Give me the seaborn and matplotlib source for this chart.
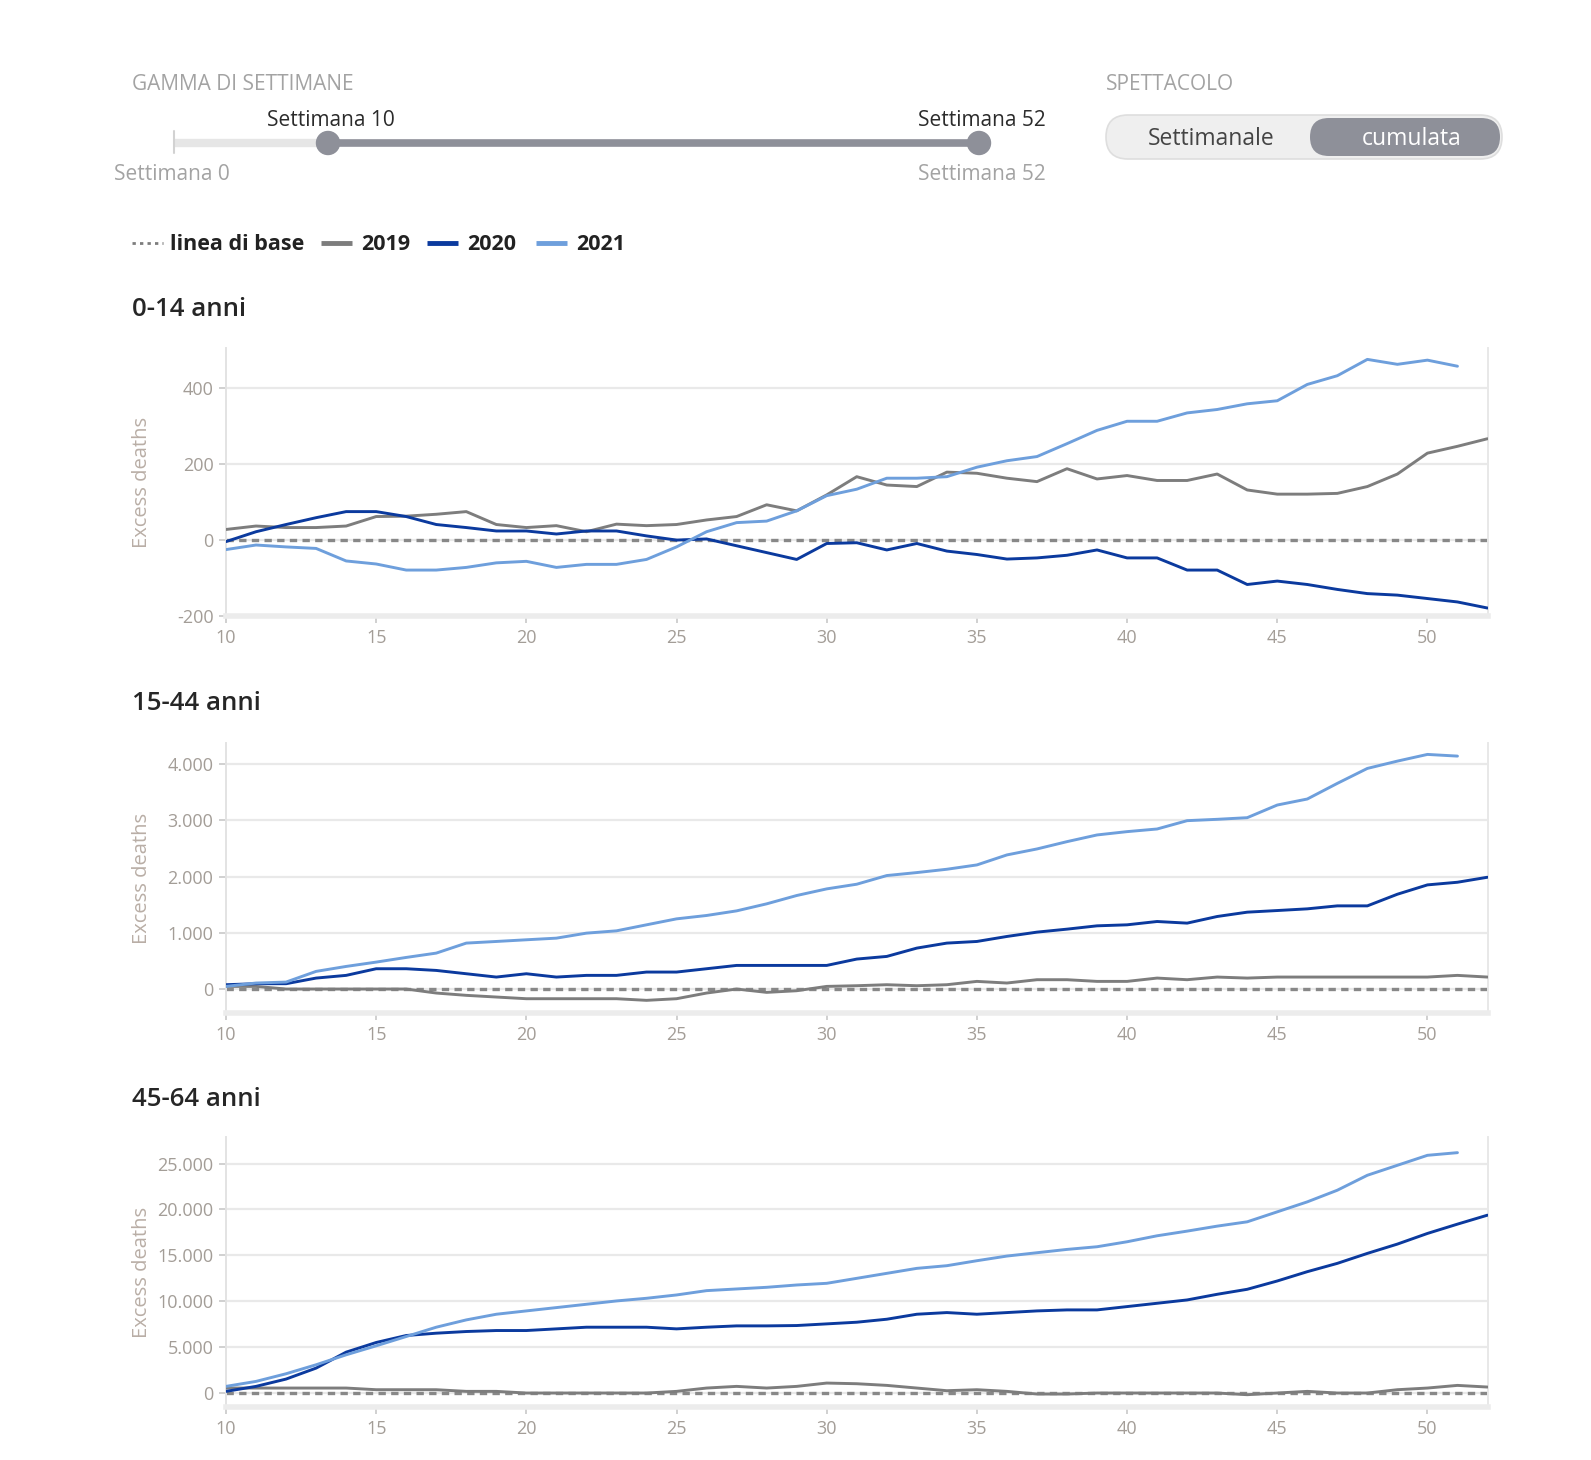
import matplotlib
matplotlib.use("Agg")
import matplotlib.pyplot as plt
from matplotlib.patches import FancyBboxPatch, Circle
from matplotlib.ticker import FuncFormatter
import pandas as pd
import seaborn as sns

# Weekly cumulative excess deaths
weeks = list(range(10, 53))
years = ["2019", "2020", "2021"]
panel_titles = ["0-14 anni", "15-44 anni", "45-64 anni"]

age0_2019 = [28, 37, 33, 33, 37, 62, 63, 68, 75, 41,
             33, 38, 22, 42, 38, 41, 53, 62, 93, 77,
             119, 167, 145, 141, 179, 176, 163, 154, 188, 161,
             170, 157, 157, 174, 132, 121, 121, 123, 141, 174,
             229, 247, 267]
age0_2020 = [-4, 22, 41, 59, 75, 75, 62, 41, 33, 24,
             24, 16, 24, 24, 11, 0, 3, -15, -33, -51,
             -9, -7, -26, -9, -29, -38, -50, -47, -40, -26,
             -47, -47, -79, -79, -117, -108, -117, -130, -141, -145,
             -154, -163, -179]
age0_2021 = [-25, -13, -18, -22, -55, -63, -79, -79, -72, -60,
             -56, -72, -64, -64, -51, -18, 22, 46, 50, 77,
             117, 134, 163, 163, 167, 192, 209, 220, 254, 289,
             313, 313, 335, 344, 359, 367, 410, 433, 476, 463,
             474, 458]

age15_2019 = [47, 47, 0, 0, 0, 0, 0, -71, -112, -142,
              -172, -172, -172, -172, -201, -172, -71, 0, -59, -30,
              47, 59, 77, 59, 77, 136, 107, 166, 166, 136,
              136, 195, 166, 213, 195, 213, 213, 213, 213, 213,
              213, 243, 213]
age15_2020 = [77, 95, 95, 195, 243, 361, 361, 331, 272, 213,
              272, 213, 243, 243, 302, 302, 361, 420, 420, 420,
              420, 533, 580, 728, 817, 846, 935, 1012, 1065, 1124,
              1142, 1201, 1172, 1290, 1367, 1396, 1426, 1479, 1479, 1686,
              1852, 1899, 1988]
age15_2021 = [47, 107, 124, 314, 402, 479, 562, 639, 817, 846,
              876, 905, 994, 1035, 1142, 1248, 1308, 1390, 1515, 1663,
              1781, 1864, 2018, 2071, 2130, 2207, 2385, 2491, 2621, 2740,
              2799, 2846, 2994, 3018, 3047, 3272, 3379, 3657, 3923, 4053,
              4172, 4142]

age45_2019 = [543, 543, 543, 543, 543, 362, 362, 362, 181, 181,
              0, 0, 0, 0, 0, 181, 543, 725, 543, 725,
              1087, 1014, 833, 543, 254, 362, 181, -109, -109, 0,
              0, 0, 0, 0, -181, 0, 181, 0, 0, 362,
              543, 833, 652]
age45_2020 = [181, 725, 1522, 2717, 4456, 5507, 6268, 6521, 6703, 6811,
              6811, 6992, 7173, 7173, 7173, 6992, 7173, 7318, 7318, 7355,
              7536, 7717, 8043, 8587, 8768, 8587, 8768, 8949, 9058, 9058,
              9420, 9782, 10144, 10760, 11304, 12210, 13224, 14130, 15217, 16231,
              17390, 18405, 19383]
age45_2021 = [725, 1268, 2101, 3080, 4166, 5145, 6159, 7173, 7970, 8586,
              8949, 9311, 9673, 10035, 10325, 10687, 11158, 11340, 11521, 11774,
              11956, 12499, 13043, 13586, 13876, 14419, 14926, 15289, 15651, 15941,
              16484, 17136, 17644, 18187, 18658, 19745, 20832, 22100, 23730, 24817,
              25904, 26194]

panels = [
    (age0_2019, age0_2020, age0_2021),
    (age15_2019, age15_2020, age15_2021),
    (age45_2019, age45_2020, age45_2021),
]
y_ticks = [[-200, 0, 200, 400],
           [0, 1000, 2000, 3000, 4000],
           [0, 5000, 10000, 15000, 20000, 25000]]
y_limits = [(-200, 506), (-426, 4375), (-1522, 27900)]

colours = {"2019": "#7d7d7d", "2020": "#0b3a9e", "2021": "#6e9fdc"}

sns.set_theme(style="white")
plt.rcParams["font.family"] = ["Open Sans", "DejaVu Sans"]

W, H = 1591, 1460
fig = plt.figure(figsize=(W / 100, H / 100), dpi=100)
fig.patch.set_facecolor("white")

tick_col = "#a39d97"
grid_col = "#e9e9e9"

# axes positions in pixels: left, top, right, bottom
ax_left, ax_right = 226, 1487.5
ax_boxes = [(348, 616), (743, 1013), (1137, 1407)]
title_y = [309, 704, 1099]

for i, (s19, s20, s21) in enumerate(panels):
    top, bottom = ax_boxes[i]
    ax = fig.add_axes([ax_left / W, 1 - bottom / H,
                       (ax_right - ax_left) / W, (bottom - top) / H])
    frames = []
    for yr, vals in zip(years, (s19, s20, s21)):
        frames.append(pd.DataFrame({"week": weeks[:len(vals)], "value": vals, "year": yr}))
    df = pd.concat(frames, ignore_index=True)

    ax.axhline(0, color="#888888", lw=2.4, ls=(0, (2.2, 1.6)), zorder=1.5)
    sns.lineplot(data=df, x="week", y="value", hue="year", palette=colours,
                 hue_order=years, ax=ax, legend=False, linewidth=2.1, zorder=3)

    ax.set_xlim(10, 52)
    ax.set_ylim(*y_limits[i])
    ax.set_xticks(range(10, 51, 5))
    ax.set_yticks(y_ticks[i])
    ax.yaxis.set_major_formatter(FuncFormatter(lambda v, _: f"{int(v):,}".replace(",", ".")))
    ax.grid(axis="y", color=grid_col, lw=1.6, zorder=0)
    ax.grid(axis="x", visible=False)
    ax.set_axisbelow(True)
    ax.spines["top"].set_visible(False)
    ax.spines["left"].set_color("#e3e3e3")
    ax.spines["left"].set_linewidth(1.4)
    ax.spines["right"].set_color("#e8e8e8")
    ax.spines["right"].set_linewidth(1.4)
    ax.spines["bottom"].set_color("#ececec")
    ax.spines["bottom"].set_linewidth(4)
    ax.tick_params(axis="both", colors="#c8c8c8", labelcolor=tick_col,
                   labelsize=13, length=5, width=1.2, pad=4)
    ax.tick_params(axis="both", which="both", bottom=True, left=True)
    ax.set_xlabel("")
    ax.set_ylabel("Excess deaths", color="#b9aea6", fontsize=14.5)
    ax.yaxis.set_label_coords((152 - ax_left) / (ax_right - ax_left), 0.5)
    ax.patch.set_alpha(0)

    fig.text(132 / W, 1 - title_y[i] / H, panel_titles[i], fontsize=18.5,
             fontweight="semibold", color="#262626", va="center", ha="left")

# header controls drawn in pixel space
ov = fig.add_axes([0, 0, 1, 1], zorder=-1)
ov.set_xlim(0, W)
ov.set_ylim(H, 0)
ov.axis("off")

ov.text(132, 84, "GAMMA DI SETTIMANE", fontsize=15, color="#a3a3a3", va="center")
ov.plot([174, 328], [143, 143], color="#e6e6e6", lw=6, solid_capstyle="butt")
ov.plot([174, 174], [131, 153], color="#d2d2d2", lw=1.5)
ov.plot([328, 979], [143, 143], color="#8e9099", lw=5.5, solid_capstyle="butt")
for cx in (328, 979):
    ov.add_patch(Circle((cx, 143), 11.5, color="#8e9099", zorder=3))
ov.text(331, 120, "Settimana 10", fontsize=15, color="#2b2b2b", ha="center", va="center")
ov.text(982, 120, "Settimana 52", fontsize=15, color="#2b2b2b", ha="center", va="center")
ov.text(172, 174, "Settimana 0", fontsize=15, color="#a3a3a3", ha="center", va="center")
ov.text(982, 174, "Settimana 52", fontsize=15, color="#a3a3a3", ha="center", va="center")

ov.text(1106, 84, "SPETTACOLO", fontsize=15, color="#a3a3a3", va="center")
ov.add_patch(FancyBboxPatch((1106, 115), 396, 44,
                            boxstyle="round,pad=0,rounding_size=22",
                            fc="#efefef", ec="#dedede", lw=1.2))
ov.add_patch(FancyBboxPatch((1310, 118), 190, 38,
                            boxstyle="round,pad=0,rounding_size=19",
                            fc="#8e9099", ec="none"))
ov.text(1211, 139, "Settimanale", fontsize=16.5, color="#444444", ha="center", va="center")
ov.text(1412, 139, "cumulata", fontsize=16.5, color="white", ha="center", va="center")

# legend row
leg_y = 243
ov.plot([132, 163], [leg_y, leg_y], color="#7d7d7d", lw=2, ls=(0, (1.2, 1.5)))
ov.text(170, leg_y + 2, "linea di base", fontsize=15.5, fontweight="bold", color="#222222", va="center")
for x0, yr in [(321, "2019"), (427, "2020"), (536, "2021")]:
    ov.plot([x0, x0 + 31], [leg_y, leg_y], color=colours[yr], lw=3.5, solid_capstyle="butt")
    ov.text(x0 + 40, leg_y + 2, yr, fontsize=15.5, fontweight="bold", color="#222222", va="center")

fig.savefig("out.png", dpi=100, facecolor="white")
